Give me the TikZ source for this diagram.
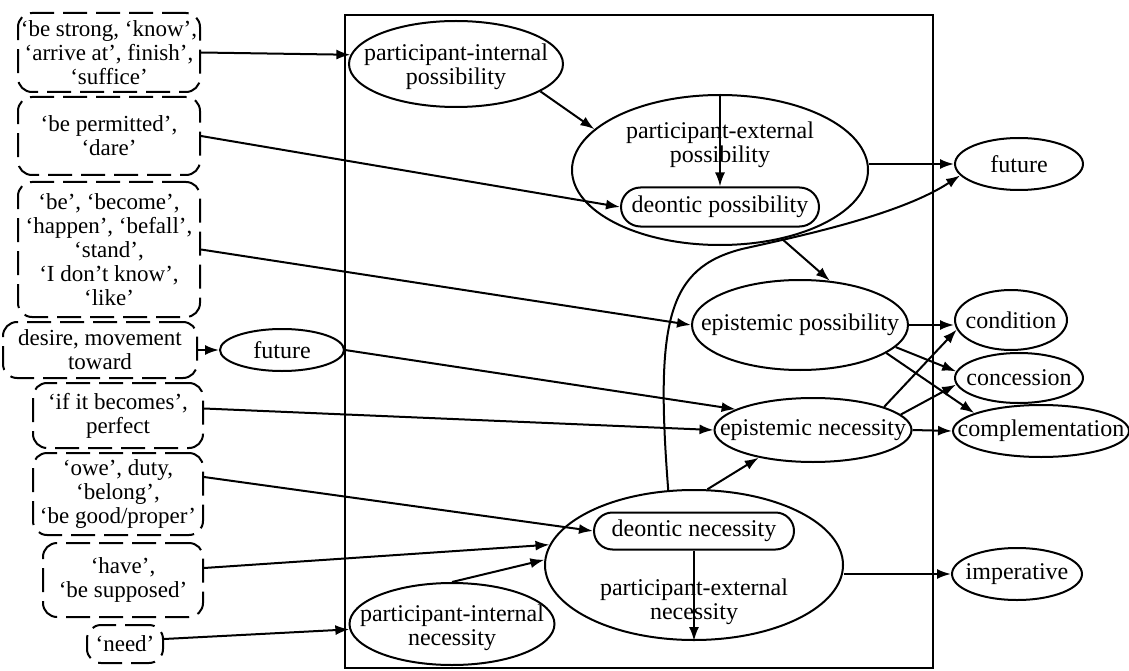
\documentclass[tikz,border=0pt]{standalone}
\usepackage{fontspec}
\setmainfont{Liberation Serif}
\usetikzlibrary{shapes.geometric,shapes.misc,arrows.meta,calc}
\newcommand\bigtxt{\fontsize{24}{24}\selectfont}
\newcommand\boxtxt{\fontsize{23}{24}\selectfont}
\begin{document}
\begin{tikzpicture}[x=1pt,y=-1pt,
  line width=2pt,
  ell/.style={draw, ellipse, inner sep=0pt},
  txt/.style={inner sep=0pt, align=center, font=\bigtxt},
  capsule/.style={draw, rounded rectangle, inner sep=0pt, align=center, font=\bigtxt},
  dbox/.style={draw, rounded corners=14pt, dash pattern=on 24pt off 9pt, inner sep=0pt, align=center, font=\boxtxt},
  arr/.style={-{Latex[length=14pt,width=10pt]}}]
\useasboundingbox (0,0) rectangle (1129,671);
\fill[white] (0,0) rectangle (1129,671);

% frame
\draw (345,15) rectangle (933,668);

% left dashed boxes
\node[dbox, minimum width=182pt, minimum height=79pt] (b1) at (109,52.5) {‘be strong, ‘know’,\\‘arrive at’, finish’,\\‘suffice’};
\node[dbox, minimum width=182pt, minimum height=78pt] (b2) at (109,136) {‘be permitted’,\\‘dare’};
\node[dbox, minimum width=182pt, minimum height=135pt] (b3) at (109,249.5) {‘be’, ‘become’,\\‘happen’, ‘befall’,\\‘stand’,\\‘I don’t know’,\\‘like’};
\node[dbox, minimum width=194pt, minimum height=56pt] (b4) at (100,350) {desire, movement\\toward};
\node[dbox, minimum width=170pt, minimum height=65pt] (b5) at (118,415.5) {‘if it becomes’,\\perfect};
\node[dbox, minimum width=170pt, minimum height=82pt] (b6) at (118,494) {‘owe’, duty,\\‘belong’,\\‘be good/proper’};
\node[dbox, minimum width=160pt, minimum height=74pt] (b7) at (123,580) {‘have’,\\‘be supposed’};
\node[dbox, minimum width=76pt, minimum height=38pt] (b8) at (125,644) {‘need’};

% inner nodes
\node[ell, minimum width=124pt, minimum height=42pt, label={[txt]center:future}] (fl) at (282,350) {};
\node[ell, minimum width=214pt, minimum height=86pt, label={[txt, yshift=-3pt]center:{participant-internal\\possibility}}] (pip) at (456,64) {};
\node[ell, minimum width=296pt, minimum height=150pt, label={[txt, yshift=25pt]center:{participant-external\\possibility}}] (pep) at (720,170) {};
\node[capsule, minimum width=198pt, minimum height=39pt] (dp) at (720,207) {deontic possibility};
\node[ell, minimum width=216pt, minimum height=90pt, label={[txt]center:{epistemic possibility}}] (ep) at (800,325) {};
\node[ell, minimum width=197pt, minimum height=64pt, label={[txt]center:{epistemic necessity}}] (en) at (813,430) {};
\node[ell, minimum width=298pt, minimum height=150pt, label={[txt, yshift=-37pt]center:{participant-external\\necessity}}] (pen) at (694,565) {};
\node[capsule, minimum width=200pt, minimum height=37pt] (dn) at (694,531) {deontic necessity};
\node[ell, minimum width=205pt, minimum height=82pt, label={[txt, yshift=-4pt]center:{participant-internal\\necessity}}] (pin) at (452,624) {};

% right nodes
\node[ell, minimum width=128pt, minimum height=52pt, label={[txt]center:future}] (rf) at (1019,164) {};
\node[ell, minimum width=112pt, minimum height=60pt, label={[txt]center:condition}] (cond) at (1011,320) {};
\node[ell, minimum width=128pt, minimum height=50pt, label={[txt]center:concession}] (conc) at (1019,378) {};
\node[ell, minimum width=176pt, minimum height=52pt, label={[txt]center:complementation}] (comp) at (1041,431) {};
\node[ell, minimum width=130pt, minimum height=52pt, label={[txt]center:imperative}] (imp) at (1017,574) {};

% connectors from the left boxes
\draw[arr] (b1.east) -- (pip.175);
\draw[arr] (b2.east) -- (dp.west);
\draw[arr] (b3.east) -- (ep.west);
\draw[arr] (b4.east) -- (fl.west);
\draw[arr] (fl.east) -- (en.165);
\draw[arr] ($(b5.east)+(0,-7)$) -- (en.west);
\draw[arr] ($(b6.east)+(0,-17)$) -- (dn.west);
\draw[arr] ($(b7.east)+(0,-12)$) -- (pen.172);
\draw[arr] ($(b8.east)+(0,-5)$) -- (pin.183);

% inner connectors
\draw[arr] (pip.-18) -- (pep.162);
\draw[arr] (pep.north) -- (dp.north);
\draw[arr] (pep.-48) -- (ep.56);
\draw[arr] (pin.north) -- (pen.178);
\draw[arr] (dn.south) -- (pen.south);
\draw[arr] (pen.80) -- (en.207);
\draw[arr] (pen.109) .. controls (655,320) and (668,268) .. (742,249)
  .. controls (800,236) and (900,215) .. (rf.191);

% to the right column
\draw[arr] (pep.east |- rf.west) -- (rf.west);
\draw[arr] (ep.east) -- (ep.east -| cond.west);
\draw[arr] (ep.-13) -- (conc.174);
\draw[arr] (ep.-18) -- (comp.165);
\draw[arr] (en.18) -- (cond.190);
\draw[arr] (en.10) -- (conc.186);
\draw[arr] (en.east) -- (comp.west);
\draw[arr] (pen.east |- imp.west) -- (imp.west);
\end{tikzpicture}
\end{document}
